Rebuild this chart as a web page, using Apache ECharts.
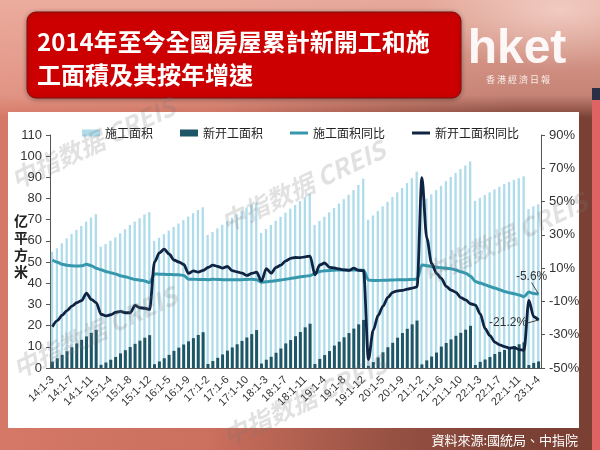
<!DOCTYPE html>
<html>
<head>
<meta charset="utf-8">
<script src="https://cdn.jsdelivr.net/npm/echarts@6/dist/echarts.min.js"></script>
<style>
html,body{margin:0;padding:0;width:600px;height:450px;overflow:hidden;}
#bg{position:absolute;left:0;top:0;width:600px;height:450px;
 background:
  radial-gradient(ellipse 140px 60px at 560px 10px, rgba(255,235,228,0.55), rgba(255,235,228,0) 100%),
  linear-gradient(to bottom, rgba(238,178,164,0.9) 0px, rgba(230,160,145,0.7) 95px, rgba(230,160,145,0) 118px),
  linear-gradient(to right, #d57866 0%, #cb6f5e 35%, #9c5445 62%, #7b4135 85%, #7a4034 100%);}
#strip{position:absolute;left:592px;top:100px;width:8px;height:350px;background:#e06363;}
#strip2{position:absolute;left:592px;top:88px;width:8px;height:12px;background:#2a2f45;}
#chart{position:absolute;left:0;top:0;width:600px;height:450px;}
</style>
</head>
<body>
<div id="bg"></div><div id="strip"></div><div id="strip2"></div>
<div id="chart"></div>
<script>
// ---- categories (cumulative months) ----
const categories = [
 '14:1-3','14:1-4','14:1-5','14:1-6','14:1-7','14:1-8','14:1-9','14:1-10','14:1-11','14:1-12',
 '15:1-2','15:1-3','15:1-4','15:1-5','15:1-6','15:1-7','15:1-8','15:1-9','15:1-10','15:1-11','15:1-12',
 '16:1-2','16:1-3','16:1-4','16:1-5','16:1-6','16:1-7','16:1-8','16:1-9','16:1-10','16:1-11','16:1-12',
 '17:1-2','17:1-3','17:1-4','17:1-5','17:1-6','17:1-7','17:1-8','17:1-9','17:1-10','17:1-11','17:1-12',
 '18:1-2','18:1-3','18:1-4','18:1-5','18:1-6','18:1-7','18:1-8','18:1-9','18:1-10','18:1-11','18:1-12',
 '19:1-2','19:1-3','19:1-4','19:1-5','19:1-6','19:1-7','19:1-8','19:1-9','19:1-10','19:1-11','19:1-12',
 '20:1-2','20:1-3','20:1-4','20:1-5','20:1-6','20:1-7','20:1-8','20:1-9','20:1-10','20:1-11','20:1-12',
 '21:1-2','21:1-3','21:1-4','21:1-5','21:1-6','21:1-7','21:1-8','21:1-9','21:1-10','21:1-11','21:1-12',
 '22:1-2','22:1-3','22:1-4','22:1-5','22:1-6','22:1-7','22:1-8','22:1-9','22:1-10','22:1-11','22:1-12',
 '23:1-2','23:1-3','23:1-4'
];

// 施工面积 (亿平方米)
const constructionArea = [
 54.9,56.5,58.9,61.2,63.3,65.2,67.0,69.1,71.1,72.6,
 57.3,58.5,60.1,61.7,63.6,65.5,67.5,69.1,70.7,72.5,73.6,
 60.0,61.5,63.2,64.9,66.6,68.2,69.8,71.5,73.1,74.6,75.9,
 62.8,64.2,65.9,67.6,69.3,71.0,72.6,74.2,75.8,77.2,78.2,
 63.7,65.6,67.5,69.5,71.4,73.3,75.2,77.0,78.8,80.6,82.2,
 67.5,69.4,71.4,73.5,75.6,77.6,79.7,81.8,84.0,86.4,89.4,
 70.0,72.0,74.2,76.3,78.5,80.7,82.9,85.0,87.3,89.7,92.7,
 77.8,80.0,82.0,84.0,86.0,88.2,90.2,92.1,93.9,95.6,97.5,
 78.9,80.3,81.6,82.9,84.3,85.6,86.8,87.8,88.8,89.6,90.5,
 75.0,76.3,77.3
];

// 新开工面积 (亿平方米)
const newStartArea = [
 3.0,4.6,6.2,7.9,9.8,11.6,13.3,14.9,16.6,18.0,
 1.5,2.6,3.9,5.2,6.9,8.4,9.9,11.4,12.9,14.3,15.5,
 1.8,3.1,4.6,6.2,8.1,9.6,11.1,12.6,14.1,15.6,16.9,
 1.9,3.3,4.8,6.4,8.2,9.7,11.2,12.8,14.4,16.0,17.9,
 2.1,3.9,5.3,7.2,9.2,11.6,13.2,15.0,17.0,19.2,20.9,
 1.9,4.3,6.1,8.0,10.6,12.4,14.5,16.5,18.6,20.6,22.7,
 1.0,2.8,5.0,7.4,9.8,11.9,14.3,16.5,18.5,20.6,22.4,
 1.7,3.6,5.4,7.3,10.1,11.8,13.5,15.2,16.6,18.1,19.9,
 1.4,2.9,4.0,5.2,6.6,7.6,8.5,9.4,10.4,11.2,12.1,
 1.4,2.4,3.1
];

// 施工面积同比 (%)
const constructionYoY = [
 14.9,13.6,12.3,11.7,11.4,11.3,11.4,12.3,11.5,10.0,
 9.0,8.0,7.3,6.5,5.5,4.8,4.0,3.2,2.8,2.3,1.3,
 6.5,6.4,6.3,6.2,6.1,6.0,5.6,3.4,3.3,3.2,3.2,
 3.1,3.3,3.2,3.1,3.0,3.0,3.0,3.1,3.2,3.3,3.0,
 1.5,1.8,2.1,2.5,2.9,3.3,3.8,4.3,4.8,5.2,5.5,
 6.8,8.0,8.4,8.6,8.8,8.9,8.9,8.9,8.9,8.9,8.7,
 2.9,2.6,2.6,2.7,2.8,2.9,3.0,3.1,3.1,3.2,3.5,
 11.9,11.5,11.0,10.6,10.2,10.0,9.6,8.9,7.9,7.0,5.2,
 2.0,1.0,0.0,-1.0,-2.0,-3.0,-4.0,-4.8,-5.4,-6.1,-7.2,
 -4.4,-5.2,-5.6
];

// 新开工面积同比 (%)
const newStartYoY = [
 -25.2,-21.5,-18.3,-15.5,-12.8,-10.8,-9.5,-5.0,-8.8,-10.7,
 -17.7,-18.7,-18.0,-16.6,-16.0,-16.8,-16.8,-12.4,-13.8,-14.1,-14.8,
 13.7,19.2,21.4,18.5,14.9,13.7,12.2,6.8,8.4,7.6,8.6,
 10.4,11.8,11.0,10.0,11.0,8.5,7.8,7.0,5.6,6.8,7.6,
 2.2,9.7,7.0,10.5,11.8,14.4,15.9,16.4,16.3,16.8,17.2,
 6.0,11.9,13.1,10.5,10.1,9.5,8.9,8.6,10.0,8.6,8.5,
 -44.9,-27.2,-18.4,-12.8,-7.6,-4.5,-3.6,-3.4,-2.6,-2.0,-1.2,
 64.3,28.2,12.8,6.9,3.8,-0.9,-3.2,-4.5,-7.7,-9.1,-11.4,
 -12.2,-17.5,-26.3,-30.6,-34.4,-36.1,-37.2,-38.0,-37.8,-38.9,-39.4,
 -9.4,-19.2,-21.2
];

// axis ranges
const leftMin = 0, leftMax = 110, leftStep = 10;
const rightMin = -50, rightMax = 90, rightStep = 20;

const seriesNames = ['施工面积','新开工面积','施工面积同比','新开工面积同比'];
const titleLines = ['2014年至今全國房屋累計新開工和施','工面積及其按年增速'];
const sourceText = '資料來源:國統局、中指院';
const watermark = '中指数据 CREIS';

const numFont = '"Liberation Sans Narrow","Liberation Sans",Arial,sans-serif';
const cjkFont = '"Noto Sans CJK SC","Noto Sans CJK TC",sans-serif';
const last = categories.length - 1;
const lineIcon = 'path://M0,0H24V4H0Z';

function endLabelData(arr) {
  return arr.map(function (v, i) {
    return i === last ? { value: v, symbol: 'circle', symbolSize: 1, label: { show: true } } : v;
  });
}

const wmStyle = { text: watermark, fill: 'rgba(120,120,120,0.22)', font: 'bold italic 25px ' + cjkFont, align: 'center', verticalAlign: 'middle', textAlign: 'center', textVerticalAlign: 'middle' };
const wmPos = [[93,143],[303,186],[505,238],[95,332],[305,400]];

const chart = echarts.init(document.getElementById('chart'));
chart.setOption({
  animation: false,
  backgroundColor: 'transparent',
  grid: { left: 50, top: 135, width: 491, height: 233, containLabel: false },
  legend: {
    left: 77, top: 122,
    itemWidth: 18, itemHeight: 7, itemGap: 27,
    textStyle: { fontSize: 12, fontFamily: cjkFont, color: '#222' },
    data: [
      { name: seriesNames[0], icon: 'rect' },
      { name: seriesNames[1], icon: 'rect' },
      { name: seriesNames[2], icon: lineIcon },
      { name: seriesNames[3], icon: lineIcon }
    ]
  },
  xAxis: {
    type: 'category', data: categories, boundaryGap: true,
    axisLine: { show: true, lineStyle: { color: '#555', width: 1 } },
    axisTick: { show: false },
    axisLabel: { interval: 3, rotate: 45, fontSize: 11, color: '#333', fontFamily: numFont, margin: 10 },
    splitLine: { show: false }
  },
  yAxis: [
    {
      type: 'value', min: leftMin, max: leftMax, interval: leftStep, position: 'left',
      axisLine: { show: true, lineStyle: { color: '#555', width: 1 } },
      axisTick: { show: true, length: 4, lineStyle: { color: '#555' } },
      axisLabel: { fontSize: 13, color: '#333', fontFamily: numFont, margin: 8 },
      splitLine: { show: false }
    },
    {
      type: 'value', min: rightMin, max: rightMax, interval: rightStep, position: 'right',
      axisLine: { show: true, lineStyle: { color: '#555', width: 1 } },
      axisTick: { show: true, length: 4, lineStyle: { color: '#555' } },
      axisLabel: { fontSize: 13, color: '#333', fontFamily: numFont, margin: 8, formatter: '{value}%' },
      splitLine: { show: false }
    }
  ],
  series: [
    {
      name: seriesNames[0], type: 'bar', yAxisIndex: 0, data: constructionArea,
      barWidth: 2.3, barGap: '-100%', itemStyle: { color: '#afdcea' },
      emphasis: { disabled: true }, z: 2
    },
    {
      name: seriesNames[1], type: 'bar', yAxisIndex: 0, data: newStartArea,
      barWidth: 3, barGap: '-100%', itemStyle: { color: '#1d5667' },
      emphasis: { disabled: true }, z: 3
    },
    {
      name: seriesNames[2], type: 'line', yAxisIndex: 1, data: endLabelData(constructionYoY),
      symbol: 'none', showSymbol: true, showAllSymbol: true, smooth: 0.3, smoothMonotone: 'x',
      lineStyle: { color: '#3797ad', width: 3 }, itemStyle: { color: '#3797ad' },
      label: { show: false, position: 'top', distance: 4, formatter: '{c}%', color: '#333', fontSize: 12, fontFamily: numFont },
      labelLayout: function (p) { return p.dataIndex === last ? { dx: -7, dy: -7 } : {}; },
      labelLine: { show: true, lineStyle: { color: '#444', width: 1 } },
      emphasis: { disabled: true }, z: 4
    },
    {
      name: seriesNames[3], type: 'line', yAxisIndex: 1, data: endLabelData(newStartYoY),
      symbol: 'none', showSymbol: true, showAllSymbol: true, smooth: 0.3, smoothMonotone: 'x',
      lineStyle: { color: '#0f2342', width: 2.8 }, itemStyle: { color: '#0f2342' },
      label: { show: false, position: 'left', distance: 3, formatter: '{c}%', color: '#333', fontSize: 12, fontFamily: numFont },
      labelLayout: function (p) { return p.dataIndex === last ? { dx: -8, dy: 3 } : {}; },
      labelLine: { show: true, lineStyle: { color: '#444', width: 1 } },
      emphasis: { disabled: true }, z: 5
    }
  ],
  graphic: [
    { type: 'rect', z: -10, silent: true, shape: { x: 8, y: 112, width: 571, height: 316 }, style: { fill: '#ffffff' } },
    { type: 'rect', z: 10, silent: true, shape: { x: 27, y: 12, width: 434, height: 86, r: 9 },
      style: { fill: '#cc0000', stroke: '#7a1010', lineWidth: 1, shadowBlur: 5, shadowColor: 'rgba(0,0,0,0.35)', shadowOffsetY: 1 } },
    { type: 'text', z: 11, silent: true, x: 37, y: 42,
      style: { text: titleLines[0], fill: '#ffffff', font: 'bold 24px "Noto Sans CJK TC",sans-serif', verticalAlign: 'middle', textVerticalAlign: 'middle' } },
    { type: 'text', z: 11, silent: true, x: 37, y: 75,
      style: { text: titleLines[1], fill: '#ffffff', font: 'bold 24px "Noto Sans CJK TC",sans-serif', verticalAlign: 'middle', textVerticalAlign: 'middle' } },
    { type: 'text', z: 11, silent: true, x: 517, y: 50,
      style: { text: 'hket', fill: 'rgba(255,255,255,0.92)', font: 'bold 48px "Liberation Sans",Arial,sans-serif', align: 'center', verticalAlign: 'middle', textAlign: 'center', textVerticalAlign: 'middle' } },
    { type: 'text', z: 11, silent: true, x: 518, y: 80,
      style: { text: '香 港 經 濟 日 報', fill: 'rgba(255,255,255,0.85)', font: '9px "Noto Sans CJK TC",sans-serif', align: 'center', verticalAlign: 'middle', textAlign: 'center', textVerticalAlign: 'middle' } },
    { type: 'text', z: 11, silent: true, x: 21, y: 212,
      style: { text: '亿\n平\n方\n米', fill: '#222', font: 'bold 14px "Noto Sans CJK SC",sans-serif', lineHeight: 17, align: 'center', textAlign: 'center' } },
    { type: 'text', z: 11, silent: true, x: 578, y: 440,
      style: { text: sourceText, fill: '#ffffff', font: '13px "Noto Sans CJK TC",sans-serif', align: 'right', verticalAlign: 'middle', textAlign: 'right', textVerticalAlign: 'middle' } }
  ].concat(wmPos.map(function (p) {
    return { type: 'text', z: 20, silent: true, x: p[0], y: p[1], rotation: 0.44, style: wmStyle };
  }))
});
</script>
</body>
</html>
